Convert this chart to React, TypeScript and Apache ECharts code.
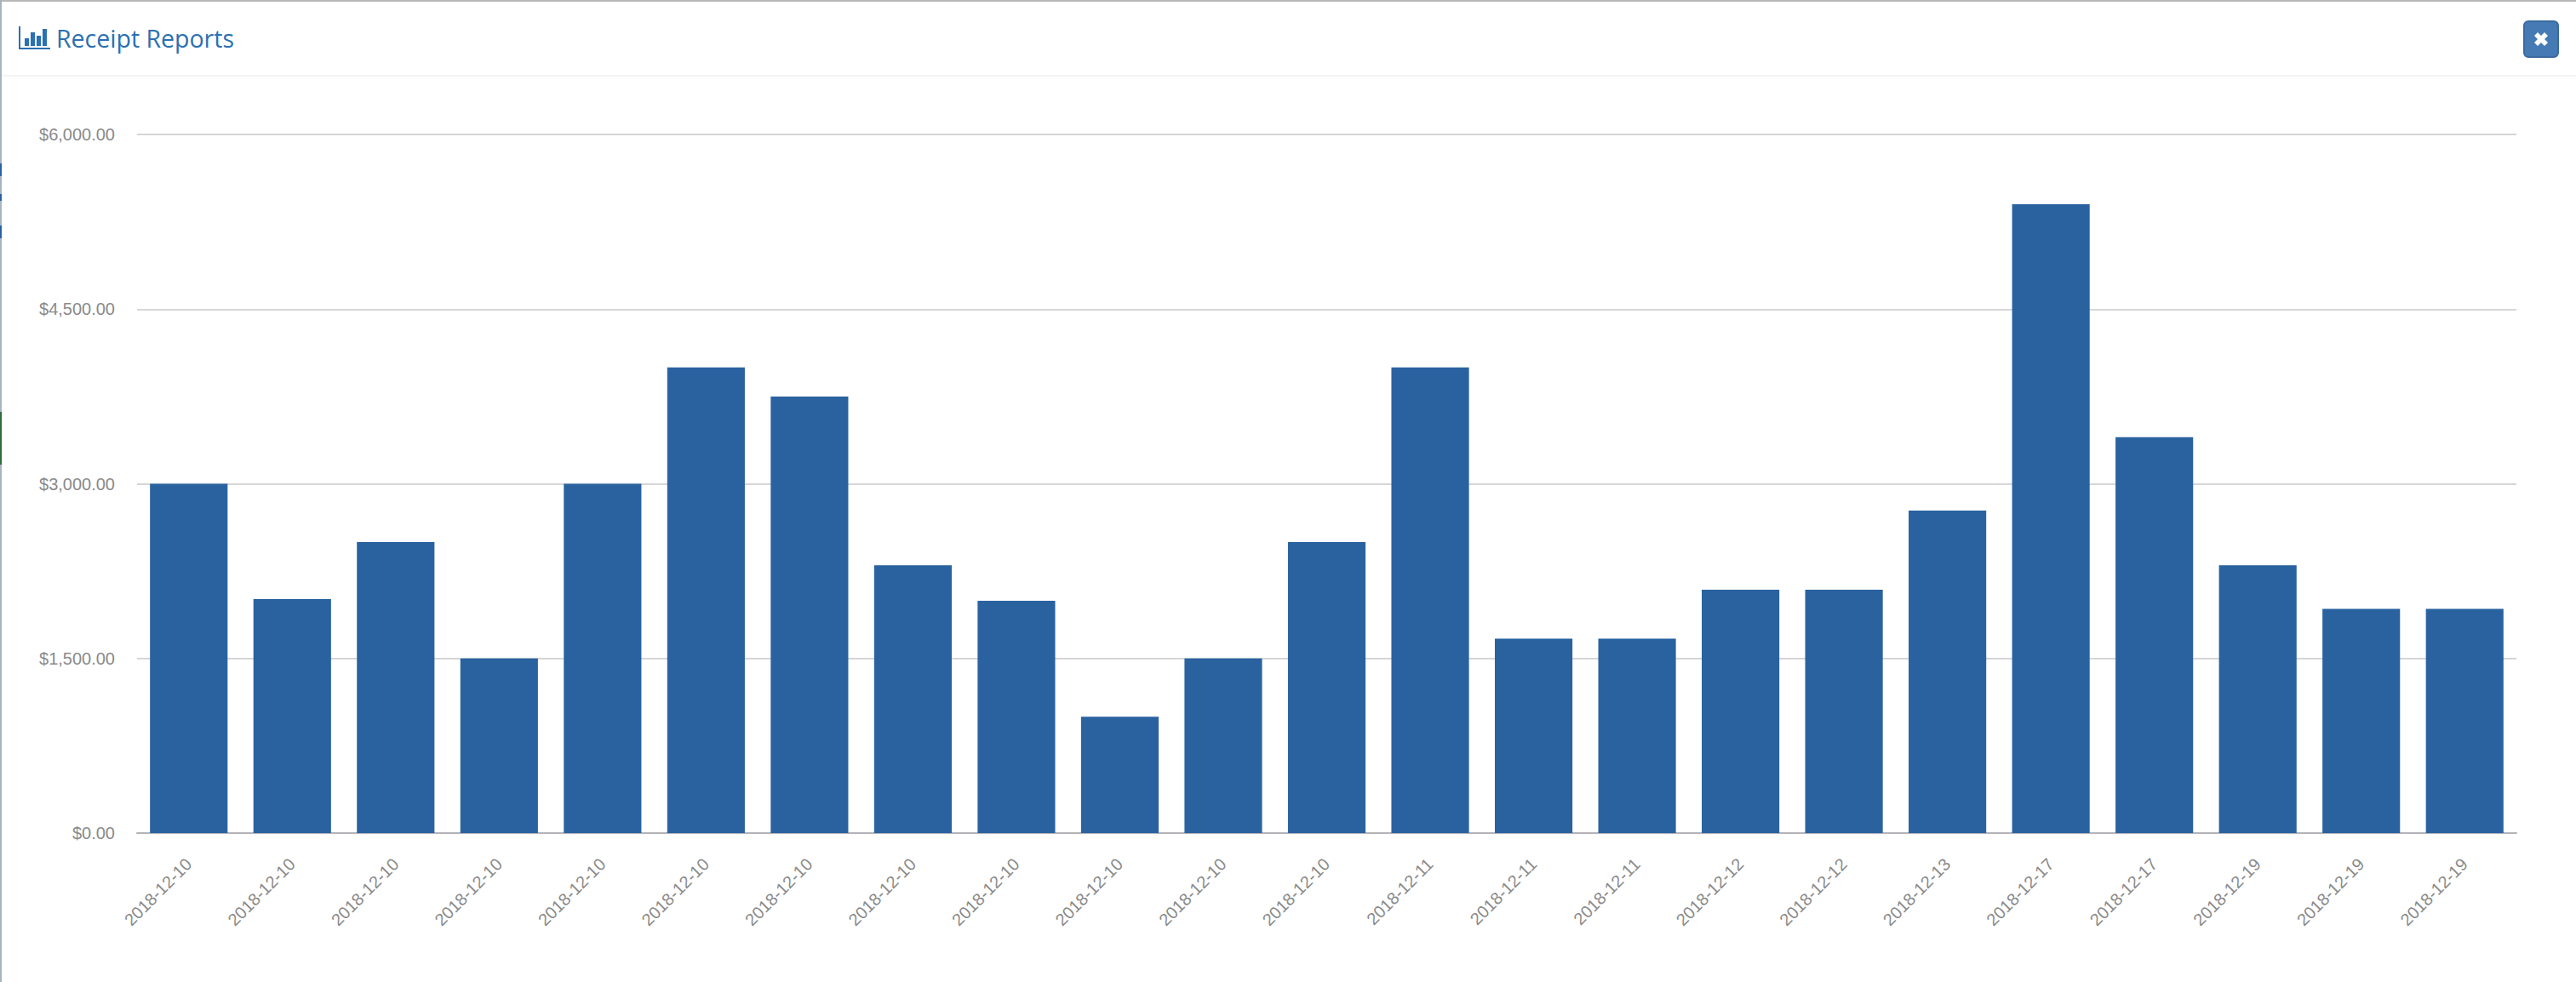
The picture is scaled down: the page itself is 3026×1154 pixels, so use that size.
import React, { useEffect, useRef } from "react";
import * as echarts from "echarts";

const categories = [
  "2018-12-10","2018-12-10","2018-12-10","2018-12-10","2018-12-10","2018-12-10","2018-12-10",
  "2018-12-10","2018-12-10","2018-12-10","2018-12-10","2018-12-10","2018-12-11","2018-12-11",
  "2018-12-11","2018-12-12","2018-12-12","2018-12-13","2018-12-17","2018-12-17","2018-12-19",
  "2018-12-19","2018-12-19",
];
const receipts = [
  3000,2010,2500,1500,3000,4000,3750,2300,1995,1000,1500,2500,4000,1670,1670,2090,2090,2770,5400,3400,2300,1925,1925,
];
const yMax = 6000;
const yStep = 1500;
const titleText = "Receipt Reports";

export default function App() {
  const ref = useRef<HTMLDivElement>(null);
  useEffect(() => {
    document.body.style.margin = "0";
    const chart = echarts.init(ref.current!, null, { renderer: "svg" });
    chart.setOption({
      animation: false,
      backgroundColor: "#ffffff",
      grid: { left: 161, right: 70, top: 158, bottom: 175, containLabel: false },
      xAxis: {
        type: "category",
        data: categories,
        axisTick: { show: false },
        axisLine: { lineStyle: { color: "#b4b4b8", width: 2 } },
        axisLabel: {
          interval: 0,
          rotate: 45,
          margin: 33,
          fontSize: 20,
          color: "#8a8a8a",
          fontFamily: "Liberation Sans",
        },
      },
      yAxis: {
        type: "value",
        min: 0,
        max: yMax,
        interval: yStep,
        axisLine: { show: false },
        axisTick: { show: false },
        splitLine: { lineStyle: { color: "#d6d6d6", width: 2 } },
        axisLabel: {
          margin: 26,
          fontSize: 20,
          color: "#8a8a8a",
          fontFamily: "Liberation Sans",
          formatter: (v: number) =>
            "$" + v.toLocaleString("en-US", { minimumFractionDigits: 2, maximumFractionDigits: 2 }),
        },
      },
      series: [
        {
          type: "bar",
          data: receipts,
          barWidth: "75%",
          itemStyle: { color: "#2a62a0" },
        },
      ],
      graphic: [
        { type: "rect", shape: { x: 0, y: 0, width: 3026, height: 2 }, style: { fill: "#b8b8b8" }, silent: true },
        { type: "rect", shape: { x: 0, y: 88, width: 3026, height: 2 }, style: { fill: "#f3f3f3" }, silent: true },
        { type: "rect", shape: { x: 0, y: 0, width: 2, height: 1154 }, style: { fill: "#a8b3c2" }, silent: true },
        { type: "rect", shape: { x: 0, y: 484, width: 2, height: 62 }, style: { fill: "#2f6b3d" }, silent: true },
        { type: "rect", shape: { x: 0, y: 192, width: 2, height: 15 }, style: { fill: "#2a62a0" }, silent: true },
        { type: "rect", shape: { x: 0, y: 228, width: 2, height: 8 }, style: { fill: "#2a62a0" }, silent: true },
        { type: "rect", shape: { x: 0, y: 265, width: 2, height: 15 }, style: { fill: "#2a62a0" }, silent: true },
        { type: "rect", shape: { x: 22, y: 31, width: 2, height: 27 }, style: { fill: "#2a70b2" } },
        { type: "rect", shape: { x: 22, y: 56, width: 37, height: 2 }, style: { fill: "#2a70b2" } },
        { type: "rect", shape: { x: 29, y: 45, width: 5, height: 9 }, style: { fill: "#2a70b2" } },
        { type: "rect", shape: { x: 36, y: 38, width: 5, height: 16 }, style: { fill: "#2a70b2" } },
        { type: "rect", shape: { x: 43, y: 42, width: 5, height: 12 }, style: { fill: "#2a70b2" } },
        { type: "rect", shape: { x: 50, y: 34, width: 5, height: 20 }, style: { fill: "#2a70b2" } },
        {
          type: "text",
          x: 66,
          y: 45,
          style: {
            text: titleText,
            fill: "#2a70b2",
            font: '28.5px "Open Sans"',
            textVerticalAlign: "middle",
          },
        },
        {
          type: "rect",
          shape: { x: 2965, y: 25, width: 40, height: 42, r: 5 },
          style: { fill: "#457ab5", stroke: "#3a6a9f", lineWidth: 2 },
        },
        {
          type: "polygon",
          shape: {
            points: [
              [2981, 38],[2985, 42],[2989, 38],[2993, 42],[2989, 46],[2993, 50],
              [2989, 54],[2985, 50],[2981, 54],[2977, 50],[2981, 46],[2977, 42],
            ],
          },
          style: { fill: "#ffffff" },
        },
      ],
    });
    return () => chart.dispose();
  }, []);
  return <div ref={ref} style={{ width: 3026, height: 1154 }} />;
}
